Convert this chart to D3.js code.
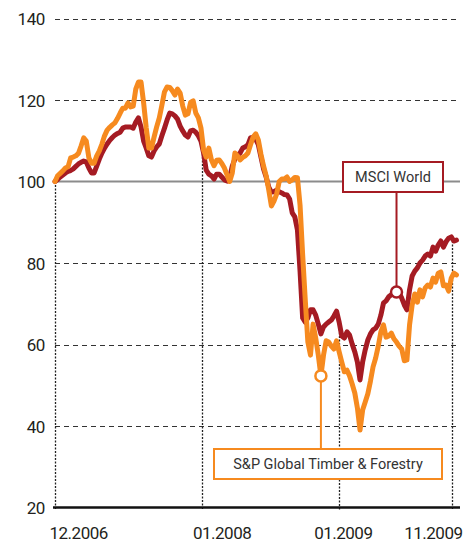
<!DOCTYPE html>
<html>
<head>
<meta charset="utf-8">
<script src="https://cdn.jsdelivr.net/npm/d3@7"></script>
<style>
  body { margin: 0; background: #fff; }
  svg text { font-family: Roboto, "Open Sans", sans-serif; }
</style>
</head>
<body>
<svg></svg>
<script>
// weekly index values, 12.2006 = 100
var msciWorld = [100, 100.5, 101.1, 101.6, 102.1, 102.5, 102.7, 103.1, 103.7, 104.3,
  104.7, 105.0, 104.8, 103.3, 102.1, 102.1, 103.8, 105.5, 107.0, 108.2,
  109.2, 110.1, 110.8, 111.4, 111.8, 112.1, 113.1, 113.4, 113.4, 113.4,
  113.1, 114.6, 115.6, 113.4, 109.9, 108.2, 106.3, 106.0, 107.5, 108.5,
  109.2, 111.2, 113.1, 115.1, 116.8, 116.6, 116.1, 115.3, 113.6, 112.4,
  111.4, 110.9, 112.4, 112.6, 112.1, 111.2, 109.9, 107.0, 102.8, 101.8,
  101.4, 100.6, 101.8, 101.8, 101.1, 100.4, 100.1, 100.9, 103.8, 105.5,
  106.5, 107.0, 108.2, 108.5, 109.0, 110.7, 110.9, 110.4, 109.0, 106.0,
  103.1, 101.1, 98.6, 97.4, 97.5, 97.9, 97.5, 97.2, 96.8, 96.7,
  95.7, 92.3, 91.3, 88.1, 78.0, 66.5, 65.5, 66.5, 68.5, 68.5,
  67.2, 65.0, 62.6, 64.3, 65.0, 65.5, 66.0, 67.0, 68.2, 65.5,
  62.1, 61.6, 63.1, 62.3, 60.1, 58.2, 55.7, 51.3, 55.7, 58.7,
  61.1, 62.6, 63.6, 64.0, 65.0, 67.2, 70.2, 70.7, 71.7, 72.2,
  72.4, 72.9, 72.6, 71.4, 69.7, 68.5, 73.4, 76.8, 78.0, 78.8,
  80.0, 80.7, 81.7, 82.2, 81.7, 83.9, 82.9, 84.4, 85.4, 83.9,
  85.2, 86.1, 86.4, 85.4, 85.6];

var spTimber = [100, 101.4, 102.0, 102.6, 103.3, 103.6, 105.8, 106.0, 106.3, 106.9,
  108.7, 110.7, 109.9, 105.8, 104.5, 104.5, 106.3, 107.5, 109.2, 111.2,
  112.6, 113.3, 113.9, 114.4, 115.5, 116.8, 118.0, 118.0, 119.3, 118.3,
  118.5, 122.7, 124.4, 124.4, 119.3, 113.1, 108.2, 108.2, 110.9, 113.4,
  115.6, 118.7, 122.0, 123.2, 123.1, 122.3, 121.2, 122.7, 121.7, 118.5,
  116.3, 116.6, 119.4, 119.8, 116.8, 115.6, 113.1, 107.7, 106.0, 108.2,
  105.3, 103.9, 105.2, 105.3, 104.4, 103.3, 101.6, 100, 102.1, 107.0,
  106.3, 105.3, 105.9, 106.3, 107.0, 109.0, 110.9, 111.7, 110.2, 106.7,
  103.8, 101.4, 97.9, 94.0, 95.2, 96.9, 100, 100.6, 100.6, 101.1,
  100, 100.4, 101.0, 100.9, 94.2, 82.0, 70.9, 60.6, 57.4, 65.0,
  61.6, 57.4, 52.3, 57.4, 60.9, 60.6, 59.6, 58.9, 60.9, 58.2,
  55.7, 53.3, 53.7, 52.3, 50.3, 48.1, 44.4, 39.0, 43.9, 45.9,
  47.9, 51.0, 54.5, 56.7, 59.6, 63.1, 64.8, 61.8, 62.1, 62.8,
  61.4, 60.6, 59.6, 58.9, 56.0, 56.2, 64.8, 69.7, 72.4, 70.4,
  73.4, 71.7, 73.9, 74.6, 74.1, 76.3, 75.3, 77.5, 77.8, 74.4,
  74.6, 73.1, 76.3, 77.5, 77.1];

var seriesNames = ["MSCI World", "S&P Global Timber & Forestry"];
var yTicks = [20, 40, 60, 80, 100, 120, 140];
var xTickDates = [new Date(2006, 11, 1), new Date(2008, 0, 1), new Date(2009, 0, 1), new Date(2009, 10, 1)];
var xTickLabels = ["12.2006", "01.2008", "01.2009", "11.2009"];

var startDate = new Date(2006, 11, 1);
var dates = msciWorld.map(function(d, i) { return d3.timeDay.offset(startDate, 7 * i); });

var width = 475, height = 542;
var plotLeft = 55, plotRight = 460, plotBottom = 507.5, plotTop = 18.5;
var red = "#a51b23", orange = "#f68a1f";

var svg = d3.select("svg")
    .attr("width", width)
    .attr("height", height);

var x = d3.scaleTime().domain([startDate, new Date(2009, 10, 1)]).range([plotLeft, 452]);
var y = d3.scaleLinear().domain([20, 140]).range([plotBottom, plotTop]);

// dashed grid
svg.append("g")
  .selectAll("line")
  .data(yTicks.filter(function(d) { return d != 20 && d != 100; }))
  .enter().append("line")
    .attr("x1", plotLeft)
    .attr("x2", plotRight)
    .attr("y1", function(d) { return Math.round(y(d)) + 0.5; })
    .attr("y2", function(d) { return Math.round(y(d)) + 0.5; })
    .style("stroke", "#333")
    .style("stroke-width", 1)
    .style("stroke-dasharray", "5,4");

// base line at 100
svg.append("line")
    .attr("x1", plotLeft).attr("x2", plotRight)
    .attr("y1", y(100)).attr("y2", y(100))
    .style("stroke", "#8c8c8c")
    .style("stroke-width", 2);

// vertical date lines from the upper series down to the axis
var bisect = d3.bisector(function(d) { return d; }).left;
svg.append("g")
  .selectAll("line")
  .data(xTickDates)
  .enter().append("line")
    .attr("x1", function(d) { return Math.round(x(d)) + 0.5; })
    .attr("x2", function(d) { return Math.round(x(d)) + 0.5; })
    .attr("y1", function(d) {
      var i = Math.min(bisect(dates, d), dates.length - 1);
      return y(Math.max(msciWorld[i], spTimber[i]));
    })
    .attr("y2", plotBottom + 3)
    .style("stroke", "#222")
    .style("stroke-width", 1.3)
    .style("stroke-dasharray", "2,1.5");

// axes
var yAxis = svg.append("g")
    .attr("transform", "translate(45,0)")
    .call(d3.axisLeft(y).tickValues(yTicks).tickSize(0).tickPadding(0));
yAxis.select(".domain").remove();
yAxis.selectAll("text")
    .attr("dy", "0.36em")
    .style("font-size", "17px")
    .style("letter-spacing", "-0.4px")
    .style("fill", "#231f20");

var xAxis = svg.append("g")
    .attr("transform", "translate(0," + plotBottom + ")")
    .call(d3.axisBottom(x).tickValues(xTickDates).tickSize(0)
      .tickFormat(function(d, i) { return xTickLabels[i]; }));
xAxis.select(".domain").remove();
var xLabelAnchor = ["start", "start", "middle", "end"];
var xLabelDx = [-6, -10, 4, 10];
xAxis.selectAll("text")
    .attr("y", 19)
    .attr("dy", "0.71em")
    .attr("dx", function(d, i) { return xLabelDx[i]; })
    .style("text-anchor", function(d, i) { return xLabelAnchor[i]; })
    .style("font-size", "17px")
    .style("letter-spacing", "-0.5px")
    .style("fill", "#231f20");

svg.append("line")
    .attr("x1", 53).attr("x2", plotRight)
    .attr("y1", plotBottom).attr("y2", plotBottom)
    .style("stroke", "#111")
    .style("stroke-width", 2.5);

// series
var line = d3.line()
    .x(function(d, i) { return x(dates[i]); })
    .y(function(d) { return y(d); });

[[msciWorld, red], [spTimber, orange]].forEach(function(s) {
  svg.append("path")
      .datum(s[0])
      .attr("d", line)
      .style("fill", "none")
      .style("stroke", s[1])
      .style("stroke-width", 5)
      .style("stroke-linejoin", "round")
      .style("stroke-linecap", "round");
});

// labels with pointers
var labels = [
  {name: seriesNames[0], data: msciWorld, idx: 131, color: red, bx: 343, by: 162, bw: 100, bh: 30},
  {name: seriesNames[1], data: spTimber, idx: 102, color: orange, bx: 214, by: 449, bw: 228, bh: 30}
];

labels.forEach(function(l) {
  var mx = x(dates[l.idx]), my = y(l.data[l.idx]);
  var boxEdge = l.by > my ? l.by : l.by + l.bh;
  svg.append("line")
      .attr("x1", mx).attr("x2", mx)
      .attr("y1", my).attr("y2", boxEdge)
      .style("stroke", l.color)
      .style("stroke-width", 2);
  svg.append("circle")
      .attr("cx", mx).attr("cy", my).attr("r", 5.5)
      .style("fill", "#fff")
      .style("stroke", l.color)
      .style("stroke-width", 2.5);
  svg.append("rect")
      .attr("x", l.bx).attr("y", l.by)
      .attr("width", l.bw).attr("height", l.bh)
      .style("fill", "#fff")
      .style("stroke", l.color)
      .style("stroke-width", 2);
  svg.append("text")
      .attr("x", l.bx + l.bw / 2)
      .attr("y", l.by + l.bh / 2)
      .attr("dy", "0.36em")
      .style("text-anchor", "middle")
      .style("font-size", "14.5px")
      .style("fill", "#333")
      .text(l.name);
});
</script>
</body>
</html>
